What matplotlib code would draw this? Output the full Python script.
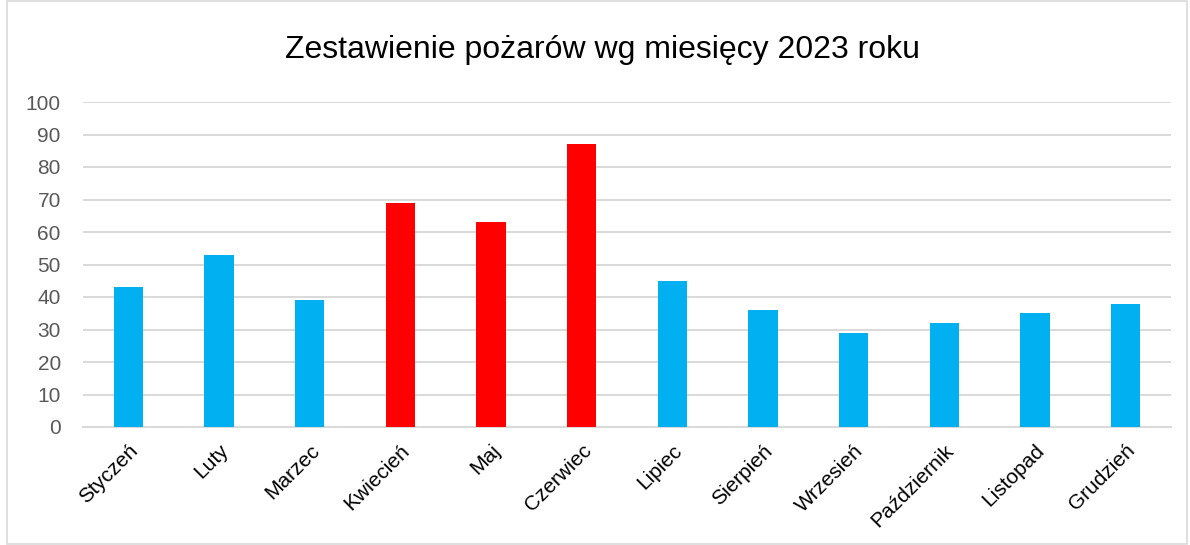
import matplotlib.pyplot as plt
from matplotlib.patches import Rectangle

plt.rcParams['font.family'] = ['Liberation Sans', 'DejaVu Sans']

months = ['Styczeń', 'Luty', 'Marzec', 'Kwiecień', 'Maj', 'Czerwiec',
          'Lipiec', 'Sierpień', 'Wrzesień', 'Październik', 'Listopad', 'Grudzień']
fires = [43, 53, 39, 69, 63, 87, 45, 36, 29, 32, 35, 38]
highlight = ['Kwiecień', 'Maj', 'Czerwiec']

colors = ['#ff0000' if m in highlight else '#00b0f0' for m in months]

fig = plt.figure(figsize=(11.9, 5.45), dpi=100)
ax = fig.add_axes([83 / 1190, 1 - 427 / 545, 1088 / 1190, 325 / 545])

x = range(len(months))
ax.bar(x, fires, width=0.32, color=colors, zorder=3)

ax.set_xlim(-0.5, len(months) - 0.5)
ax.set_ylim(0, 100)
ax.set_yticks(range(0, 101, 10))
ax.set_xticks(list(x))
ax.set_xticklabels(months, rotation=45, ha='right', rotation_mode='anchor',
                   fontsize=15, color='black')
ax.tick_params(axis='y', labelsize=15, labelcolor='#595959', length=0, pad=16)
ax.tick_params(axis='x', length=0, pad=10)

ax.grid(axis='y', color='#d9d9d9', linewidth=1.4, zorder=0)
for side in ['top', 'right', 'left']:
    ax.spines[side].set_visible(False)
ax.spines['bottom'].set_color('#d9d9d9')
ax.spines['bottom'].set_linewidth(1.4)

fig.text(0.506, 1 - 50 / 545, 'Zestawienie pożarów wg miesięcy 2023 roku',
         ha='center', va='center', fontsize=23, color='black')

fig.patches.append(Rectangle((7 / 1190, 0.002), 1 - 10 / 1190, 0.996,
                             transform=fig.transFigure, fill=False,
                             edgecolor='#d9d9d9', linewidth=1.2))

fig.savefig('out.png', dpi=100)
